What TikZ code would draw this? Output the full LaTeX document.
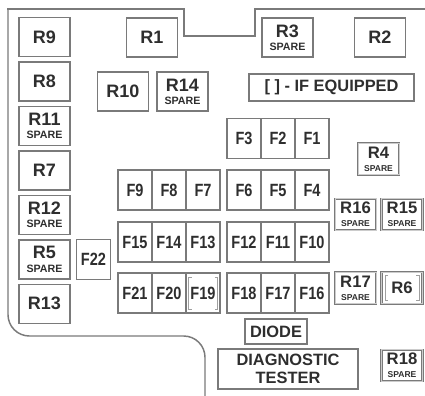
\documentclass[tikz,border=0pt]{standalone}
\usepackage{fontspec}
\setmainfont{Liberation Sans}
\newfontfamily\narrowfont{Liberation Sans}[FakeStretch=0.82]
\usetikzlibrary{positioning}
\definecolor{boxgray}{HTML}{7A7A7A}
\definecolor{inkgray}{HTML}{2E2E2E}
\tikzset{
  boxbase/.style={
    draw=boxgray,
    line width=1.1pt,
    align=center,
    inner sep=0pt,
    outer sep=0pt,
    text=inkgray
  },
  bigrelay/.style={
    boxbase,
    minimum width=38.25pt,
    minimum height=29.25pt,
    font=\bfseries\fontsize{13.5}{9.8}\selectfont
  },
  smallrelay/.style={
    boxbase,
    draw=boxgray,
    double=gray!40,
    line width=0.6pt,
    double distance=0.5pt,
    minimum width=30.75pt,
    minimum height=23.6pt,
    font=\bfseries\fontsize{12.5}{9.8}\selectfont
  },
  fusecell/.style={
    boxbase,
    minimum width=25.5pt,
    minimum height=30pt,
    font=\narrowfont\bfseries\fontsize{13.3}{14}\selectfont
  },
  labelbox/.style={
    boxbase,
    font=\bfseries\fontsize{12.3}{13.5}\selectfont
  },
  outline/.style={
    draw=boxgray,
    line width=1.1pt,
    line cap=rect
  },
  bracket/.style={
    draw=gray!75,
    line width=0.6pt
  }
}
\newcommand\bigspare{{\fontsize{8}{9}\selectfont SPARE}}
\newcommand\smallspare{{\fontsize{6.4}{7}\selectfont SPARE}}

\begin{document}
\begin{tikzpicture}[x=0.75pt, y=-0.75pt, node distance=4.1pt]
  \useasboundingbox (0,0) rectangle (425,396);
  % housing outline
  \draw[outline] (425,9) -- (255,9) -- (255,36) -- (184,36) -- (184,9) -- (8,9);
  \draw[outline, rounded corners=16pt] (8,9) -- (8,336) -- (205,336) -- (205,396);

  % left column of relays
  \node[bigrelay] (R9) at (44.5,37) {R9};
  \node[bigrelay, below=of R9] (R8) {R8};
  \node[bigrelay, below=of R8] (R11) {R11\\\bigspare};
  \node[bigrelay, below=of R11] (R7) {R7};
  \node[bigrelay, below=of R7] (R12) {R12\\\bigspare};
  \node[bigrelay, below=of R12] (R5) {R5\\\bigspare};
  \node[bigrelay, below=of R5] (R13) {R13};

  % upper relays
  \node[bigrelay] (R1) at (152,37.5) {R1};
  \node[bigrelay] (R10) at (123,91.5) {R10};
  \node[bigrelay] (R14) at (182.5,91.5) {R14\\\bigspare};
  \node[bigrelay] (R3) at (287.5,37.5) {R3\\\bigspare};
  \node[bigrelay] (R2) at (380,37.5) {R2};
  \node[labelbox, minimum width=123.75pt, minimum height=20.25pt] (legend)
    at (331.5,87.5) {[ ] - IF EQUIPPED};

  % fuses, right block
  \node[fusecell] (F3) at (244,138.5) {F3};
  \node[fusecell, right=0pt of F3] (F2) {F2};
  \node[fusecell, right=0pt of F2] (F1) {F1};
  \node[fusecell] (F6) at (244,190) {F6};
  \node[fusecell, right=0pt of F6] (F5) {F5};
  \node[fusecell, right=0pt of F5] (F4) {F4};
  \node[fusecell] (F12) at (244,242) {F12};
  \node[fusecell, right=0pt of F12] (F11) {F11};
  \node[fusecell, right=0pt of F11] (F10) {F10};
  \node[fusecell] (F18) at (244,293) {F18};
  \node[fusecell, right=0pt of F18] (F17) {F17};
  \node[fusecell, right=0pt of F17] (F16) {F16};

  % fuses, left block
  \node[fusecell] (F9) at (135,190) {F9};
  \node[fusecell, right=0pt of F9] (F8) {F8};
  \node[fusecell, right=0pt of F8] (F7) {F7};
  \node[fusecell] (F15) at (135,242) {F15};
  \node[fusecell, right=0pt of F15] (F14) {F14};
  \node[fusecell, right=0pt of F14] (F13) {F13};
  \node[fusecell] (F21) at (135,293) {F21};
  \node[fusecell, right=0pt of F21] (F20) {F20};
  \node[fusecell, right=0pt of F20] (F19) {F19};
  \node[fusecell] (F22) at (93.5,259.5) {F22};

  % small relays
  \node[smallrelay] (R4) at (378.5,159) {R4\\\smallspare};
  \node[smallrelay] (R16) at (355.5,214.5) {R16\\\smallspare};
  \node[smallrelay] (R15) at (402,214.5) {R15\\\smallspare};
  \node[smallrelay] (R17) at (355.5,288) {R17\\\smallspare};
  \node[smallrelay] (R6) at (402,288) {R6};
  \node[smallrelay] (R18) at (402,365.5) {R18\\\smallspare};

  % lower labels
  \node[labelbox, minimum width=46.5pt, minimum height=18.75pt] (diode)
    at (276,331.5) {DIODE};
  \node[labelbox, minimum width=105pt, minimum height=30pt] (tester)
    at (288,369) {DIAGNOSTIC\\TESTER};

  % brackets (if equipped)
  \draw[bracket] ([shift={(6.5,3)}]R6.north west) -- ++(-3,0) -- ++(0,25) -- ++(3,0);
  \draw[bracket] ([shift={(-6.5,3)}]R6.north east) -- ++(3,0) -- ++(0,25) -- ++(-3,0);
  \draw[bracket] ([shift={(5.5,4)}]F19.north west) -- ++(-3,0) -- ++(0,32) -- ++(3,0);
  \draw[bracket] ([shift={(-5.5,4)}]F19.north east) -- ++(3,0) -- ++(0,32) -- ++(-3,0);
\end{tikzpicture}
\end{document}
